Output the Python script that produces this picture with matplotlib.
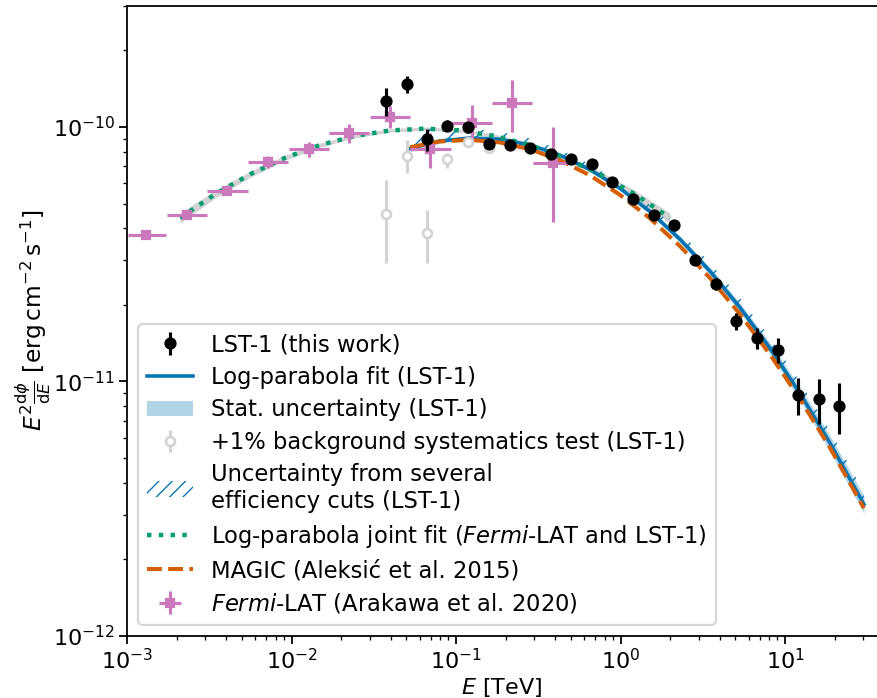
import numpy as np
import matplotlib.pyplot as plt
from matplotlib.patches import Patch

plt.rcParams['hatch.linewidth'] = 0.6

# LST-1 flux points (this work)
e_lst = [0.0374, 0.0501, 0.0666, 0.0885, 0.1183, 0.158, 0.212, 0.282, 0.376, 0.500, 0.671, 0.891,
         1.191, 1.598, 2.123, 2.838, 3.790, 5.058, 6.757, 9.03, 12.05, 16.03, 21.4]
f_lst = [12.65, 14.72, 8.94, 10.12, 10.03, 8.55, 8.52, 8.29, 7.81, 7.49, 7.16, 6.07,
         5.21, 4.51, 4.11, 3.01, 2.42, 1.724, 1.48, 1.327, 0.885, 0.851, 0.803]  # 1e-11 erg cm-2 s-1
ferr_lst = [1.6, 1.1, 0.87, 0.5, 0.35, 0.25, 0.22, 0.2, 0.18, 0.15, 0.14, 0.12,
            0.11, 0.1, 0.1, 0.08, 0.127, 0.135, 0.14, 0.15, 0.145, 0.17, 0.18]

# +1% background systematics test
e_bkg = [0.0374, 0.0501, 0.0666, 0.0885, 0.1183, 0.158]
f_bkg = [4.55, 7.71, 3.82, 7.49, 8.71, 8.25]
ferr_bkg_lo = [1.64, 1.13, 0.91, 0.6, 0.3, 0.2]
ferr_bkg_hi = [1.64, 1.18, 0.90, 0.39, 0.3, 0.2]

# Fermi-LAT (Arakawa et al. 2020)
e_lat = [1.304e-3, 2.306e-3, 4.037e-3, 7.197e-3, 1.272e-2, 2.246e-2, 3.970e-2, 6.949e-2, 0.1245, 0.2199, 0.3872]
e_lat_lo = [1.018e-3, 1.743e-3, 3.077e-3, 5.462e-3, 9.66e-3, 1.697e-2, 3.0e-2, 5.253e-2, 9.29e-2, 0.1662, 0.2926]
e_lat_hi = [1.726e-3, 3.051e-3, 5.418e-3, 9.561e-3, 1.690e-2, 2.972e-2, 5.253e-2, 9.286e-2, 0.1648, 0.2909, 0.5123]
f_lat = [3.775, 4.498, 5.605, 7.305, 8.197, 9.445, 10.98, 8.175, 10.39, 12.46, 7.20]
ferr_lat_lo = [0.07, 0.12, 0.2, 0.415, 0.557, 0.815, 1.10, 1.285, 1.64, 2.88, 2.954]
ferr_lat_hi = [0.07, 0.12, 0.2, 0.385, 0.553, 0.835, 1.08, 1.27, 1.81, 2.84, 2.83]

# Log-parabola fit (LST-1)
e_fit = [0.0525, 0.0799, 0.1217, 0.1851, 0.2818, 0.4286, 0.6526, 0.9931,
         1.511, 2.300, 3.500, 5.326, 8.105, 12.34, 18.77, 30.2]
f_fit = [8.232, 8.810, 9.052, 8.947, 8.498, 7.753, 6.803, 5.737,
         4.652, 3.620, 2.712, 1.952, 1.350, 0.897, 0.573, 0.329]
stat_frac = [0.03, 0.02, 0.015, 0.015, 0.015, 0.015, 0.015, 0.02,
             0.025, 0.03, 0.035, 0.04, 0.05, 0.06, 0.07, 0.08]
cuts_up = [0.17, 0.13, 0.09, 0.07, 0.06, 0.05, 0.05, 0.05,
           0.06, 0.07, 0.08, 0.09, 0.10, 0.11, 0.12, 0.12]
cuts_down = [0.02] * 16

# MAGIC (Aleksic et al. 2015)
f_magic = [8.322, 8.771, 8.897, 8.691, 8.173, 7.399, 6.449, 5.409,
           4.374, 3.401, 2.548, 1.838, 1.277, 0.853, 0.549, 0.318]

# joint fit (Fermi-LAT and LST-1)
e_joint = [2.101e-3, 3.428e-3, 5.593e-3, 9.13e-3, 1.490e-2, 2.432e-2, 3.970e-2, 6.48e-2,
           0.1057, 0.1726, 0.2818, 0.4599, 0.7506, 1.225, 2.000]
f_joint = [4.389, 5.439, 6.518, 7.561, 8.490, 9.218, 9.688, 9.847,
           9.688, 9.218, 8.490, 7.561, 6.518, 5.439, 4.389]
joint_frac = [0.045, 0.035, 0.028, 0.022, 0.018, 0.016, 0.015, 0.015,
              0.015, 0.016, 0.018, 0.022, 0.028, 0.035, 0.045]

c_blue = '#0173b2'
c_green = '#029e73'
c_orange = '#d55e00'
c_pink = '#cc78bc'

sc = 1e-11
e_fit = np.array(e_fit)
f_fit = np.array(f_fit) * sc
e_joint = np.array(e_joint)
f_joint = np.array(f_joint) * sc

fig = plt.figure(figsize=(877 / 160, 698 / 160), dpi=160)
ax = fig.add_axes([127 / 877, 62 / 698, 750 / 877, 630.5 / 698])
ax.set_xscale('log')
ax.set_yscale('log')

# joint fit with its band
ax.fill_between(e_joint, f_joint * (1 - np.array(joint_frac)), f_joint * (1 + np.array(joint_frac)),
                color='silver', alpha=0.7, lw=0, zorder=1)
h_joint, = ax.plot(e_joint, f_joint, ls=':', color=c_green, lw=2, zorder=4)

# LST-1 fit, stat band, efficiency cuts band
h_stat = ax.fill_between(e_fit, f_fit * (1 - np.array(stat_frac)), f_fit * (1 + np.array(stat_frac)),
                         color=c_blue, alpha=0.3, lw=0, zorder=2)
ax.fill_between(e_fit, f_fit * (1 - np.array(cuts_down)), f_fit * (1 + np.array(cuts_up)),
                facecolor='none', edgecolor=c_blue, hatch='//', lw=0, zorder=2)
h_fit, = ax.plot(e_fit, f_fit, color=c_blue, lw=1.6, zorder=3)
h_magic, = ax.plot(e_fit, np.array(f_magic) * sc, ls='--', color=c_orange, lw=1.8, zorder=3)

# Fermi-LAT points
e_lat = np.array(e_lat)
xerr = [e_lat - np.array(e_lat_lo), np.array(e_lat_hi) - e_lat]
h_lat = ax.errorbar(e_lat, np.array(f_lat) * sc, xerr=xerr,
                    yerr=[np.array(ferr_lat_lo) * sc, np.array(ferr_lat_hi) * sc],
                    fmt='s', color=c_pink, ms=3.5, elinewidth=1.4, zorder=5)

# background test points
h_bkg = ax.errorbar(e_bkg, np.array(f_bkg) * sc,
                    yerr=[np.array(ferr_bkg_lo) * sc, np.array(ferr_bkg_hi) * sc],
                    fmt='o', color='lightgray', mfc='white', ms=4, mew=1.2, elinewidth=1.4, zorder=5)

# LST-1 points
h_lst = ax.errorbar(e_lst, np.array(f_lst) * sc, yerr=np.array(ferr_lst) * sc,
                    fmt='o', color='black', ms=4.5, elinewidth=1.4, zorder=6)

h_cuts = Patch(facecolor='none', edgecolor=c_blue, hatch='////', lw=0)

ax.set_xlim(1e-3, 10 ** (-3 + 750 / 164.5))
ax.set_ylim(1e-12, 3e-10)
ax.spines['right'].set_visible(False)
ax.tick_params(which='both', pad=2)
ax.set_xlabel(r'$E$ [TeV]', labelpad=1)
ax.set_ylabel(r'$E^2\frac{\mathrm{d}\phi}{\mathrm{d}E}$ [$\mathrm{erg\,cm^{-2}\,s^{-1}}$]',
              labelpad=0, fontsize=10.5)

ax.legend([h_lst, h_fit, h_stat, h_bkg, h_cuts, h_joint, h_magic, h_lat],
          ['LST-1 (this work)',
           'Log-parabola fit (LST-1)',
           'Stat. uncertainty (LST-1)',
           '+1% background systematics test (LST-1)',
           'Uncertainty from several\nefficiency cuts (LST-1)',
           r'Log-parabola joint fit ($\it{Fermi}$-LAT and LST-1)',
           'MAGIC (Aleksić et al. 2015)',
           r'$\it{Fermi}$-LAT (Arakawa et al. 2020)'],
          loc='lower left', fontsize=10.2, labelspacing=0.42)

fig.savefig('out.png', dpi=160)
